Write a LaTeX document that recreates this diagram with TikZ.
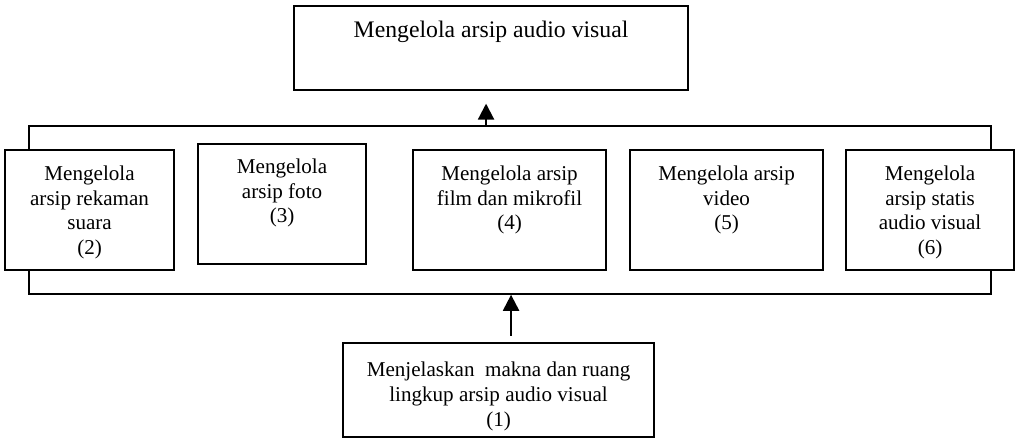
\documentclass[tikz,border=0pt]{standalone}
\usepackage{fontspec}
\setmainfont{Liberation Serif}
\usepackage{tikz}
\usetikzlibrary{
  arrows.meta,
  positioning
}

\begin{document}
\begin{tikzpicture}[
    font=\fontsize{12pt}{14pt}\selectfont,
    box/.style={draw, fill=white, line width=1.2pt, inner sep=0pt,
                minimum height=2.40cm, anchor=north west},
    txt/.style={align=center, anchor=north, inner sep=0pt},
    frm/.style={draw, line width=1pt, inner sep=0pt, anchor=north west},
    arr/.style={-{Triangle[length=0.32cm, width=0.32cm]}, line width=1.2pt},
  ]
  \useasboundingbox (0,0) rectangle (20.36,-8.74);

  % Frame round the sub-topics
  \node[frm, minimum width=19.24cm, minimum height=3.36cm] (frame) at (0.56,-2.50) {};

  % Main topic
  \node[box, minimum width=7.88cm, minimum height=1.67cm] (top) at (5.86,-0.10) {};
  \node[txt, font=\fontsize{13.5pt}{16pt}\selectfont] (toptxt)
    at ([yshift=-0.32cm]top.north) {Mengelola arsip audio visual};

  % Sub-topics
  \node[box, minimum width=3.38cm] (rek) at (0.08,-2.986) {};
  \node[txt] (rektxt) at ([yshift=-0.33cm]rek.north)
    {Mengelola\\arsip rekaman\\suara\\(2)};
  \node[box, minimum width=3.36cm] (foto) at (3.94,-2.866) {};
  \node[txt] (fototxt) at ([yshift=-0.31cm]foto.north)
    {Mengelola\\arsip foto\\(3)};
  \node[box, minimum width=3.86cm] (film) at (8.24,-2.986) {};
  \node[txt] (filmtxt) at ([yshift=-0.33cm]film.north)
    {Mengelola arsip\\film dan mikrofil\\(4)};
  \node[box, minimum width=3.86cm] (vid) at (12.58,-2.986) {};
  \node[txt] (vidtxt) at ([yshift=-0.33cm]vid.north)
    {Mengelola arsip\\video\\(5)};
  \node[box, minimum width=3.36cm] (stat) at (16.90,-2.986) {};
  \node[txt] (stattxt) at ([yshift=-0.33cm]stat.north)
    {Mengelola\\arsip statis\\audio visual\\(6)};

  % Starting topic
  \node[box, minimum width=6.22cm, minimum height=1.89cm] (intro) at (6.84,-6.83) {};
  \node[txt] (introtxt) at ([yshift=-0.41cm]intro.north)
    {Menjelaskan\ \ makna dan ruang\\lingkup arsip audio visual\\(1)};

  % Arrows
  \coordinate (up) at ([xshift=-0.10cm, yshift=-0.26cm]top.south);
  \coordinate (dn) at ([xshift=0.25cm, yshift=0.12cm]intro.north);
  \draw[arr] (frame.north -| up) -- (up);
  \draw[arr] (dn) -- (dn |- frame.south);

\end{tikzpicture}
\end{document}
